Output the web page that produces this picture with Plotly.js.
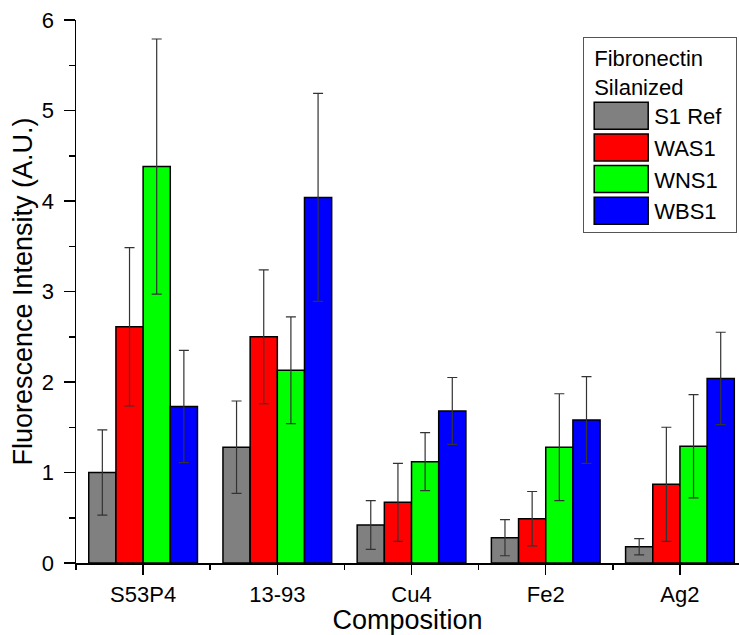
<!DOCTYPE html>
<html><head><meta charset="utf-8">
<script src="https://cdn.plot.ly/plotly-3.0.1.min.js"></script>
<style>html,body{margin:0;padding:0;background:#fff}</style>
</head><body><div id="chart" style="width:739px;height:635px"></div>
<script>
const categories = ['S53P4','13-93','Cu4','Fe2','Ag2'];
const seriesNames = ['S1 Ref','WAS1','WNS1','WBS1'];
const seriesColors = ['#808080','#ff0000','#00ff00','#0000ff'];
const s1Ref    = [1.00, 1.28, 0.42, 0.28, 0.18];
const s1RefErr = [0.47, 0.51, 0.27, 0.20, 0.09];
const was1     = [2.61, 2.50, 0.67, 0.49, 0.87];
const was1Err  = [0.875,0.74, 0.43, 0.30, 0.63];
const wns1     = [4.38, 2.13, 1.12, 1.28, 1.29];
const wns1Err  = [1.41, 0.59, 0.32, 0.59, 0.57];
const wbs1     = [1.73, 4.04, 1.68, 1.58, 2.04];
const wbs1Err  = [0.62, 1.15, 0.37, 0.48, 0.51];
const yTickVals = [0,1,2,3,4,5,6];

const values = [s1Ref, was1, wns1, wbs1];
const errors = [s1RefErr, was1Err, wns1Err, wbs1Err];
const idx = categories.map((c,i)=>i);
const font = 'Liberation Sans, Arial, sans-serif';

const traces = seriesNames.map((name,k)=>({
  type:'bar', name:name, x:idx, y:values[k],
  marker:{color:seriesColors[k], line:{color:'#000', width:1.5}},
  error_y:{type:'data', array:errors[k], visible:true, color:'#333', thickness:1.2, width:5}
}));

const layout = {
  width:739, height:635,
  margin:{l:76, r:0, t:20, b:72},
  paper_bgcolor:'#fff', plot_bgcolor:'#fff',
  barmode:'group', bargap:0.19, bargroupgap:0,
  font:{family:font, color:'#000', size:22},
  xaxis:{
    range:[-0.5, 4.44], tickmode:'array', tickvals:idx, ticktext:categories,
    showline:true, linecolor:'#000', linewidth:1.5, zeroline:false, showgrid:false,
    ticks:'outside', ticklen:10, tickwidth:1.5, tickcolor:'#000',
    tickfont:{size:22, family:font}, ticklabelstandoff:1,
    minor:{tickvals:idx.map(i=>i-0.5), ticks:'outside', ticklen:5, tickwidth:1.5, tickcolor:'#000', showgrid:false},
    title:{text:'Composition', font:{size:27, family:font}, standoff:12}
  },
  yaxis:{
    range:[0,6], tickmode:'array', tickvals:yTickVals,
    showline:true, linecolor:'#000', linewidth:1.5, zeroline:false, showgrid:false,
    ticks:'outside', ticklen:11, tickwidth:1.5, tickcolor:'#000',
    tickfont:{size:22, family:font}, ticklabelstandoff:5,
    minor:{dtick:0.5, ticks:'outside', ticklen:6, tickwidth:1.5, tickcolor:'#000', showgrid:false},
    title:{text:'Fluorescence Intensity (A.U.)', font:{size:27, family:font}, standoff:1}
  },
  legend:{
    x:0.765, y:0.969, xanchor:'left', yanchor:'top',
    bgcolor:'#fff', bordercolor:'#555', borderwidth:1,
    font:{size:22, family:font},
    title:{text:'Fibronectin<br>Silanized', font:{size:22, family:font}},
    itemwidth:60, tracegroupgap:0
  },
  showlegend:true
};

Plotly.newPlot('chart', traces, layout, {displayModeBar:false, staticPlot:true}).then(gd=>{
  gd.querySelectorAll('.legend .legendpoints path').forEach(p=>{
    p.setAttribute('d','M29,13.5H-25V-13.5H29Z');
    p.style.strokeWidth = '1.5px';
    p.style.stroke = '#000';
  });
  gd.querySelectorAll('.legend .legendtitletext').forEach(t=>{
    t.setAttribute('transform','translate(8,0)');
  });
  gd.querySelectorAll('.legend rect.bg').forEach(r=>{
    const w = parseFloat(r.getAttribute('width'));
    if (!isNaN(w)) r.setAttribute('width', String(w + 8));
  });
});
</script>
</body></html>
